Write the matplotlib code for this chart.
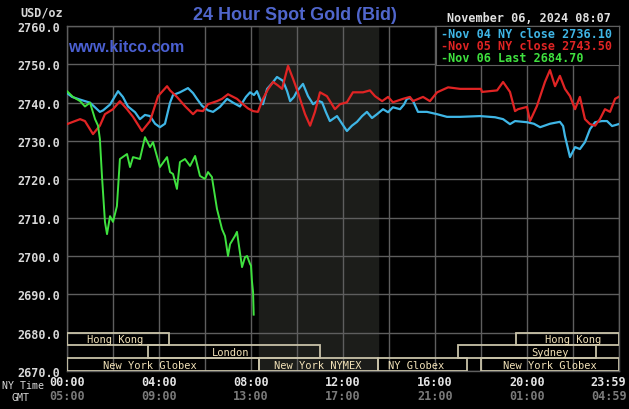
import matplotlib
matplotlib.use("Agg")
import matplotlib.pyplot as plt
from matplotlib.patches import Rectangle
import matplotlib.transforms as mtransforms

# ---------------- data ----------------
nov04_hours = [0.00, 0.22, 0.57, 1.00, 1.43, 1.57, 1.87, 2.22, 2.43, 2.65, 2.96, 3.17, 3.39, 3.61, 3.83,
               4.04, 4.26, 4.48, 4.61, 4.91, 5.26, 5.48, 5.65, 5.87, 6.13, 6.35, 6.65, 6.96, 7.22, 7.52,
               7.78, 7.96, 8.13, 8.26, 8.39, 8.52, 8.70, 8.91, 9.13, 9.39, 9.57, 9.70, 9.87, 10.00, 10.26,
               10.48, 10.70, 10.91, 11.09, 11.26, 11.43, 11.74, 11.96, 12.17, 12.39, 12.61, 12.83, 13.04,
               13.26, 13.48, 13.74, 13.96, 14.17, 14.48, 14.65, 14.78, 14.91, 15.04, 15.26, 15.65, 16.09,
               16.52, 17.09, 17.96, 18.61, 18.96, 19.26, 19.48, 20.00, 20.30, 20.57, 21.00, 21.43, 21.57,
               21.65, 21.87, 22.09, 22.30, 22.52, 22.74, 22.96, 23.26, 23.48, 23.70, 23.98]
nov04_values = [2742.5, 2741.5, 2740.8, 2740.0, 2737.6, 2738.0, 2739.5, 2743.0, 2741.5, 2739.0, 2737.5,
                2735.7, 2736.8, 2736.5, 2734.5, 2733.6, 2734.5, 2740.0, 2742.0, 2742.7, 2743.8, 2742.5,
                2741.0, 2739.2, 2738.0, 2737.6, 2738.9, 2741.0, 2740.0, 2739.0, 2741.5, 2742.7, 2742.0,
                2743.0, 2741.0, 2739.6, 2743.6, 2745.0, 2746.7, 2745.7, 2743.0, 2740.4, 2741.5, 2743.0,
                2744.9, 2741.7, 2739.6, 2740.5, 2740.1, 2737.5, 2735.2, 2736.5, 2734.5, 2732.6, 2734.0,
                2735.0, 2736.5, 2737.6, 2736.0, 2737.0, 2738.3, 2737.5, 2738.8, 2738.3, 2739.5, 2741.0,
                2741.2, 2740.5, 2737.6, 2737.6, 2737.0, 2736.3, 2736.3, 2736.5, 2736.2, 2735.7, 2734.4,
                2735.2, 2734.9, 2734.5, 2733.6, 2734.5, 2735.0, 2733.9, 2731.3, 2725.8, 2728.4, 2727.9,
                2729.7, 2733.1, 2734.9, 2735.2, 2735.2, 2733.9, 2734.4]

nov05_hours = [0.00, 0.26, 0.57, 0.78, 1.13, 1.43, 1.65, 2.00, 2.30, 2.61, 2.87, 3.26, 3.61, 3.96, 4.35,
               4.48, 4.78, 5.13, 5.48, 5.65, 5.91, 6.13, 6.52, 6.74, 7.00, 7.39, 7.65, 7.87, 8.09, 8.30,
               8.52, 8.74, 8.96, 9.17, 9.35, 9.61, 9.83, 10.04, 10.13, 10.35, 10.57, 10.78, 11.00, 11.30,
               11.65, 11.87, 12.17, 12.43, 12.87, 13.17, 13.39, 13.70, 13.96, 14.17, 14.61, 14.91, 15.04,
               15.48, 15.78, 16.09, 16.57, 17.09, 18.00, 18.04, 18.70, 18.96, 19.26, 19.48, 19.61, 20.00,
               20.13, 20.43, 20.78, 21.00, 21.22, 21.43, 21.65, 21.87, 22.09, 22.30, 22.52, 22.74, 22.96,
               23.17, 23.39, 23.61, 23.83, 23.98]
nov05_values = [2734.4, 2735.0, 2735.7, 2735.2, 2731.8, 2734.0, 2737.0, 2738.3, 2740.4, 2738.3, 2736.3,
                2732.6, 2735.2, 2741.7, 2744.3, 2743.2, 2741.5, 2739.1, 2737.0, 2738.0, 2737.8, 2739.6,
                2740.4, 2741.0, 2742.2, 2741.0, 2739.6, 2738.5, 2737.8, 2737.6, 2741.0, 2743.5, 2745.4,
                2744.5, 2743.6, 2749.6, 2746.2, 2742.7, 2741.0, 2737.0, 2734.0, 2737.6, 2742.7, 2741.7,
                2738.3, 2739.6, 2740.1, 2742.7, 2742.7, 2743.2, 2741.7, 2740.4, 2741.5, 2740.1, 2741.0,
                2741.5, 2740.4, 2741.5, 2740.4, 2742.7, 2744.0, 2743.6, 2743.6, 2742.8, 2743.2, 2745.4,
                2742.8, 2737.8, 2738.3, 2738.9, 2735.2, 2739.1, 2745.4, 2748.5, 2744.3, 2747.0, 2743.6,
                2741.7, 2738.3, 2741.5, 2735.7, 2734.4, 2734.0, 2735.7, 2738.3, 2737.6, 2741.0, 2741.5]

nov06_hours = [0.00, 0.26, 0.57, 0.78, 1.00, 1.22, 1.35, 1.43, 1.52, 1.65, 1.74, 1.87, 2.00, 2.17, 2.30,
               2.61, 2.74, 2.87, 3.17, 3.39, 3.61, 3.74, 4.04, 4.35, 4.48, 4.61, 4.78, 4.91, 5.13, 5.35,
               5.57, 5.78, 6.00, 6.13, 6.30, 6.52, 6.74, 6.87, 7.00, 7.09, 7.30, 7.39, 7.61, 7.74, 7.83,
               7.96, 8.00, 8.04, 8.09, 8.117]
nov06_values = [2743.0, 2741.5, 2740.4, 2739.0, 2740.0, 2735.7, 2734.0, 2730.5, 2720.9, 2708.9, 2705.7,
                2710.4, 2708.9, 2713.0, 2725.3, 2726.6, 2723.2, 2725.8, 2725.3, 2731.0, 2728.4, 2729.7,
                2723.2, 2725.8, 2721.9, 2721.4, 2717.5, 2724.5, 2725.3, 2723.5, 2726.1, 2720.9, 2720.1,
                2721.9, 2720.6, 2712.3, 2707.0, 2705.2, 2700.0, 2703.1, 2705.2, 2706.3, 2697.1, 2699.7,
                2700.0, 2697.9, 2697.5, 2693.5, 2690.6, 2684.7]

legend_labels = ["Nov 04 NY close 2736.10", "Nov 05 NY close 2743.50", "Nov 06 Last 2684.70"]
y_ticks = [2670, 2680, 2690, 2700, 2710, 2720, 2730, 2740, 2750, 2760]
ny_time_labels = ["00:00", "04:00", "08:00", "12:00", "16:00", "20:00", "23:59"]
gmt_labels = ["05:00", "09:00", "13:00", "17:00", "21:00", "01:00", "04:59"]
label_hours = [0, 4, 8, 12, 16, 20, 23.98]

# sessions: (row, start, end, label, label_x)
sessions = [
    (0, 0.0, 4.45, "Hong Kong", 2.1),
    (0, 19.5, 24.0, "Hong Kong", 22.0),
    (1, 3.5, 11.0, "London", 7.1),
    (1, 17.0, 23.0, "Sydney", 21.0),
    (2, 0.0, 8.33, "New York Globex", 3.6),
    (2, 8.33, 13.5, "New York NYMEX", 10.9),
    (2, 13.5, 17.4, "NY Globex", 15.2),
    (2, 18.0, 24.0, "New York Globex", 21.0),
]

# ---------------- figure ----------------
W, H = 629, 410
fig = plt.figure(figsize=(W / 100, H / 100), dpi=100, facecolor="black")
x0, x1, yt, yb = 67, 619, 27, 372
ax = fig.add_axes([x0 / W, 1 - yb / H, (x1 - x0) / W, (yb - yt) / H])
ax.set_facecolor("black")
ax.set_xlim(0, 24)
ax.set_ylim(2670, 2760)

mono = "DejaVu Sans Mono"
grid_c = "#5e5e5e"

ax.axvspan(8.333, 13.5, color="#1c1d1a", zorder=0)
ax.set_xticks(range(0, 25, 2))
ax.set_xticklabels([])
ax.set_yticks(y_ticks)
ax.set_yticklabels([f"{v:.1f}" for v in y_ticks], fontfamily=mono, fontsize=8.5,
                   fontweight="bold", color="#d8d8d8")
ax.tick_params(length=0, pad=5)
ax.grid(True, color=grid_c, linewidth=1, zorder=1)
for s in ax.spines.values():
    s.set_color(grid_c)
    s.set_linewidth(1)

blue, red, green = "#3fb6e6", "#e02424", "#3fe23f"
ax.plot(nov04_hours, nov04_values, color=blue, lw=1.6, zorder=3)
ax.plot(nov05_hours, nov05_values, color=red, lw=1.6, zorder=3)
ax.plot(nov06_hours, nov06_values, color=green, lw=1.4, zorder=4)

# session bars
row_h = 10 / 3
box_c = "#c8c2a8"
txt_c = "#f2e2b8"
for row, st, en, lab, lx in sessions:
    top = 2680 - row * row_h
    ax.add_patch(Rectangle((st, top - row_h), en - st, row_h, fill=False,
                           edgecolor=box_c, lw=1.3, zorder=5))
    ax.text(lx, top - row_h / 2, lab, ha="center", va="center", fontfamily=mono,
            fontsize=7.5, color=txt_c, zorder=6)

# legend box
lx0, lx1, ly0, ly1 = 436, 619, 27, 66
lax = fig.add_axes([lx0 / W, 1 - ly1 / H, (lx1 - lx0) / W, (ly1 - ly0) / H])
lax.set_facecolor("black")
lax.set_xticks([]); lax.set_yticks([])
lax.set_zorder(10)
for s in lax.spines.values():
    s.set_color(grid_c)
for i, (lab, c) in enumerate(zip(legend_labels, [blue, red, green])):
    yy = 1 - (34 + 12.5 * i - ly0) / (ly1 - ly0)
    lax.text(5 / (lx1 - lx0), yy, "-" + lab, transform=lax.transAxes, color=c,
             fontfamily=mono, fontsize=8.5, fontweight="bold", va="center", ha="left")

# texts
def ftext(px, py, s, **kw):
    fig.text(px / W, 1 - py / H, s, **kw)

ftext(295, 16, "24 Hour Spot Gold (Bid)", ha="center", va="center",
      fontfamily="Liberation Sans", fontsize=13, fontweight="bold", color="#5066cc")
ftext(68, 48, "www.kitco.com", ha="left", va="center", fontfamily="Liberation Sans",
      fontsize=11.5, fontweight="bold", color="#4a5fd0", zorder=10)
ftext(20, 13, "USD/oz", ha="left", va="center", fontfamily=mono, fontsize=8.5,
      fontweight="bold", color="#d8d8d8")
ftext(447, 19, "November 06, 2024 08:07", ha="left", va="center", fontfamily=mono,
      fontsize=8.5, fontweight="bold", color="#e0e0e0")
ftext(2, 386, "NY Time", ha="left", va="center", fontfamily=mono, fontsize=7.2, color="#d8d8d8")
ftext(12, 398, "GMT", ha="left", va="center", fontfamily=mono, fontsize=7.2, color="#d8d8d8")

trans = mtransforms.blended_transform_factory(ax.transData, fig.transFigure)
for h, ny, gm in zip(label_hours, ny_time_labels, gmt_labels):
    xh = h if h < 23 else 23.55
    ax.text(xh, 1 - 383 / H, ny, transform=trans, ha="center", va="center",
            fontfamily=mono, fontsize=8.5, fontweight="bold", color="#e4e4e4", clip_on=False)
    ax.text(xh, 1 - 397 / H, gm, transform=trans, ha="center", va="center",
            fontfamily=mono, fontsize=8.5, fontweight="bold", color="#7a7a7a", clip_on=False)

fig.savefig("out.png", dpi=100, facecolor="black")
